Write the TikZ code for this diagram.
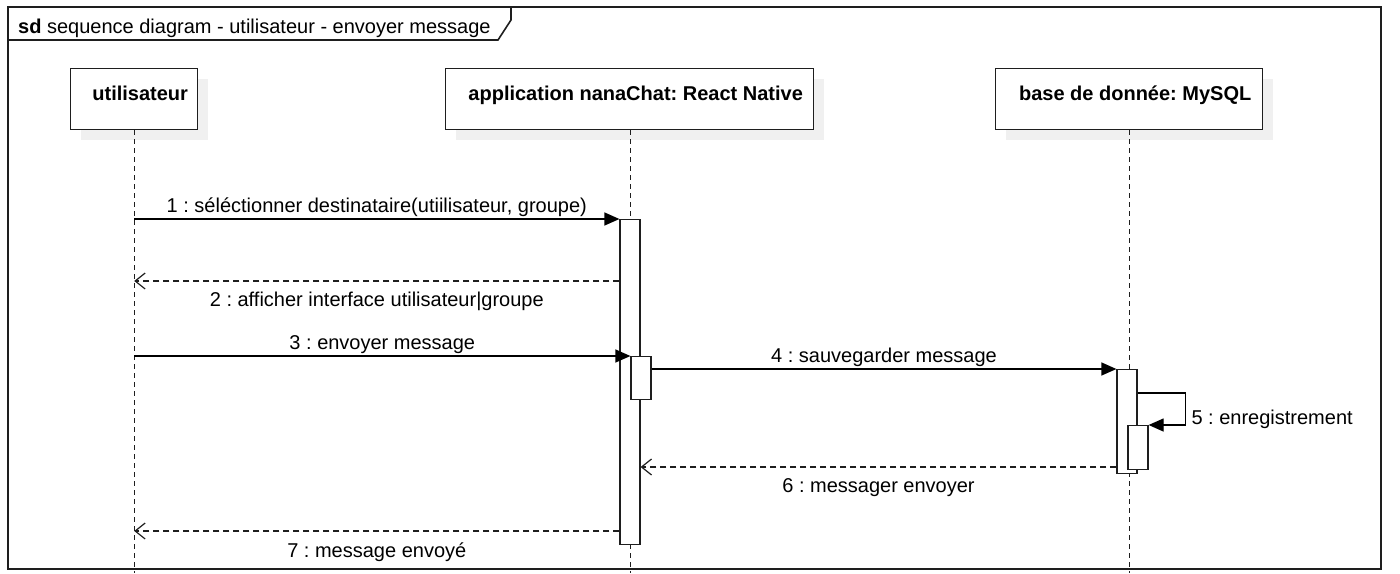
\documentclass[tikz,border=0pt]{standalone}
\usepackage{fontspec}
\setmainfont{Liberation Sans}
\usepackage{tikz}
\usetikzlibrary{arrows.meta,positioning,shadows}
\definecolor{ink}{RGB}{30,30,30}
\definecolor{shade}{RGB}{240,240,240}
\newcommand{\msgsize}{\fontsize{20}{23}\selectfont}
\frenchspacing
\tikzset{
  frame/.style={draw=ink,line width=1.6pt},
  head/.style={draw=ink,line width=1.4pt,fill=white,minimum height=61pt,anchor=north west,
    drop shadow={shadow xshift=10pt,shadow yshift=-10pt,fill=shade,opacity=1}},
  headtxt/.style={anchor=base,font=\msgsize\bfseries,yshift=-32pt,xshift=6pt},
  life/.style={draw=ink,line width=1.2pt,dash pattern=on 5pt off 4pt},
  act/.style={draw=ink,line width=1.2pt,fill=white,minimum width=20pt,inner sep=0pt,anchor=north},
  call/.style={-{Triangle[length=15pt,width=13pt]},draw=black,line width=1.2pt},
  reply/.style={-{Straight Barb[length=10pt,width=16pt]},draw=ink,line width=1.2pt,dash pattern=on 6pt off 4pt},
  msg/.style={font=\msgsize}
}
\begin{document}
\begin{tikzpicture}[x=1pt,y=-1pt]
  \fill[white] (0,0) rectangle (1400,573);
  \useasboundingbox (0,0) rectangle (1400,573);
  % frame
  \draw[frame] (8,7) rectangle (1381,569);
  \draw[frame] (8,40) -- (498,40) -- (511,20) -- (511,7);
  \node[msg,anchor=base west,inner sep=0pt] (title) at (18,33) {\textbf{sd} sequence diagram - utilisateur - envoyer message};
  \coordinate (bottom) at (0,573);

  % lifelines
  \node[head,minimum width=127pt,label={[headtxt]north:utilisateur}] (usr) at (70,68) {};
  \node[head,minimum width=368pt,label={[headtxt]north:application nanaChat: React Native}] (app) at (445,68) {};
  \node[head,minimum width=267pt,label={[headtxt]north:base de donnée: MySQL}] (db) at (995,68) {};
  \draw[life] (usr.south) -- (usr.south |- bottom);
  \draw[life] ([xshift=1pt]app.south) -- ([xshift=1pt]app.south |- bottom);
  \draw[life] (db.south) -- (db.south |- bottom);

  % activations
  \node[act,minimum height=325pt] (appA) at (630,219) {};
  \node[act,minimum height=43pt] (appB) at (641,356) {};
  \node[act,minimum height=104pt] (dbA) at (1127,369) {};
  \node[act,minimum height=44pt] (dbB) at (1138,425) {};

  % messages
  \draw[call] (usr.south |- appA.north) -- (appA.north west)
    node[msg,midway,above=-2pt] {1 : séléctionner destinataire(utiilisateur, groupe)};
  \draw[reply] (appA.west |- 0,281) -- (usr.south |- 0,281)
    node[msg,midway,below=7pt] {2 : afficher interface utilisateur|groupe};
  \draw[call] (usr.south |- appB.north) -- (appB.north west)
    node[msg,midway,above=-2pt] {3 : envoyer message};
  \draw[call] (appB.east |- dbA.north) -- (dbA.north west)
    node[msg,midway,above=-2pt] {4 : sauvegarder message};
  \draw[call] (dbA.east |- 0,393) -- ++(48,0) -- ++(0,32)
    node[msg,midway,right=2pt,yshift=-10pt] {5 : enregistrement} -- (dbB.north east);
  \draw[reply] (dbA.west |- 0,467) -- (appA.east |- 0,467)
    node[msg,midway,below=8pt] {6 : messager envoyer};
  \draw[reply] (appA.west |- 0,531) -- (usr.south |- 0,531)
    node[msg,midway,below=8pt] {7 : message envoyé};
\end{tikzpicture}
\end{document}
